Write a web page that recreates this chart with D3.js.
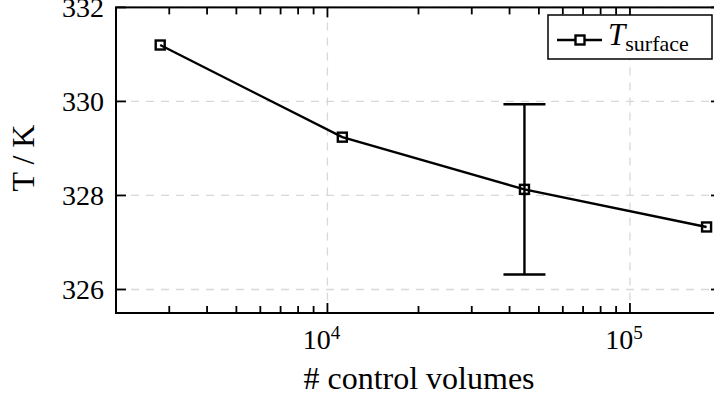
<!DOCTYPE html>
<html>
<head>
<meta charset="utf-8">
<script src="https://cdn.jsdelivr.net/npm/d3@7"></script>
<style>
  body { margin: 0; background: white; }
</style>
</head>
<body>
<div id="chart"></div>
<script>
// data
const cvCounts = [2800, 11200, 44800, 179200];
const tSurface = [331.2, 329.24, 328.13, 327.33];
const tError = [0, 0, 1.81, 0];
const yTicks = [326, 328, 330, 332];
const xMajorTicks = [1e4, 1e5];
const xMinorTicks = [3e3, 4e3, 5e3, 6e3, 7e3, 8e3, 9e3, 2e4, 3e4, 4e4, 5e4, 6e4, 7e4, 8e4, 9e4, 2e5];
const seriesName = "T";
const seriesSub = "surface";

const width = 714, height = 402;
const plot = {left: 116, right: 721, top: 7.4, bottom: 313};
const serif = "'Liberation Serif', serif";

const svg = d3.select("#chart").append("svg")
    .attr("width", width)
    .attr("height", height)
    .style("font-family", serif);

const x = d3.scaleLog()
    .domain([2000, 200000])
    .range([plot.left, plot.right]);

const y = d3.scaleLinear()
    .domain([325.5, 332])
    .range([plot.bottom, plot.top]);

// grid
const grid = svg.append("g")
    .attr("stroke", "#d8d8d8")
    .attr("stroke-width", 1.3)
    .attr("stroke-dasharray", "8,7");
grid.selectAll(".gy").data(yTicks).enter().append("line")
    .attr("x1", plot.left).attr("x2", plot.right)
    .attr("y1", d => y(d)).attr("y2", d => y(d));
grid.selectAll(".gx").data(xMajorTicks).enter().append("line")
    .attr("y1", plot.top).attr("y2", plot.bottom)
    .attr("x1", d => x(d)).attr("x2", d => x(d));

// ticks (inside, on all four sides)
const ticks = svg.append("g").attr("stroke", "black").attr("stroke-width", 1.8);
yTicks.forEach(v => {
    ticks.append("line").attr("x1", plot.left).attr("x2", plot.left + 10)
        .attr("y1", y(v)).attr("y2", y(v));
    ticks.append("line").attr("x1", plot.right).attr("x2", plot.right - 10)
        .attr("y1", y(v)).attr("y2", y(v));
});
xMajorTicks.forEach(v => {
    ticks.append("line").attr("x1", x(v)).attr("x2", x(v))
        .attr("y1", plot.bottom).attr("y2", plot.bottom - 10);
    ticks.append("line").attr("x1", x(v)).attr("x2", x(v))
        .attr("y1", plot.top).attr("y2", plot.top + 10);
});
xMinorTicks.forEach(v => {
    ticks.append("line").attr("x1", x(v)).attr("x2", x(v))
        .attr("y1", plot.bottom).attr("y2", plot.bottom - 7);
    ticks.append("line").attr("x1", x(v)).attr("x2", x(v))
        .attr("y1", plot.top).attr("y2", plot.top + 7);
});

// frame
svg.append("rect")
    .attr("x", plot.left).attr("y", plot.top)
    .attr("width", plot.right - plot.left)
    .attr("height", plot.bottom - plot.top)
    .attr("fill", "none")
    .attr("stroke", "black")
    .attr("stroke-width", 2);

// tick labels
svg.append("g").selectAll("text").data(yTicks).enter().append("text")
    .attr("x", 104)
    .attr("y", d => y(d) + 9.5)
    .attr("text-anchor", "end")
    .attr("font-size", 28)
    .text(d => d);

const xl = svg.append("g").selectAll("text").data(xMajorTicks).enter().append("text")
    .attr("x", d => x(d) - 6)
    .attr("y", 349)
    .attr("text-anchor", "middle")
    .attr("font-size", 28);
xl.append("tspan").text("10");
xl.append("tspan").attr("dy", -10).attr("font-size", 19).text(d => Math.round(Math.log10(d)));

// axis labels
svg.append("text")
    .attr("x", 419)
    .attr("y", 389)
    .attr("text-anchor", "middle")
    .attr("font-size", 32)
    .text("# control volumes");

svg.append("text")
    .attr("transform", "translate(34,158) rotate(-90)")
    .attr("text-anchor", "middle")
    .attr("font-size", 32)
    .text("T / K");

// series line
const line = d3.line()
    .x((d, i) => x(cvCounts[i]))
    .y(d => y(d));

svg.append("path")
    .datum(tSurface)
    .attr("d", line)
    .attr("fill", "none")
    .attr("stroke", "black")
    .attr("stroke-width", 2.4);

// error bars
const errIdx = tError.map((e, i) => i).filter(i => tError[i] > 0);
const eb = svg.append("g").attr("stroke", "black").attr("stroke-width", 2.4);
errIdx.forEach(i => {
    const cx = x(cvCounts[i]);
    const yHi = y(tSurface[i] + tError[i]);
    const yLo = y(tSurface[i] - tError[i]);
    eb.append("line").attr("x1", cx).attr("x2", cx).attr("y1", yHi).attr("y2", yLo);
    eb.append("line").attr("x1", cx - 21).attr("x2", cx + 21).attr("y1", yHi).attr("y2", yHi);
    eb.append("line").attr("x1", cx - 21).attr("x2", cx + 21).attr("y1", yLo).attr("y2", yLo);
});

// markers
const ms = 9;
svg.selectAll(".marker").data(tSurface).enter().append("rect")
    .attr("class", "marker")
    .attr("x", (d, i) => x(cvCounts[i]) - ms / 2)
    .attr("y", d => y(d) - ms / 2)
    .attr("width", ms)
    .attr("height", ms)
    .attr("fill", "none")
    .attr("stroke", "black")
    .attr("stroke-width", 2.4);

// legend
const lg = svg.append("g");
lg.append("rect")
    .attr("x", 548).attr("y", 15)
    .attr("width", 164).attr("height", 44)
    .attr("fill", "white")
    .attr("stroke", "black")
    .attr("stroke-width", 1.5);
lg.append("line")
    .attr("x1", 557).attr("x2", 602)
    .attr("y1", 40).attr("y2", 40)
    .attr("stroke", "black").attr("stroke-width", 2.4);
lg.append("rect")
    .attr("x", 580 - ms / 2).attr("y", 40 - ms / 2)
    .attr("width", ms).attr("height", ms)
    .attr("fill", "white").attr("stroke", "black").attr("stroke-width", 2.4);
const lt = lg.append("text")
    .attr("x", 608).attr("y", 45)
    .attr("font-size", 31);
lt.append("tspan").attr("font-style", "italic").text(seriesName);
lt.append("tspan").attr("dy", 6).attr("font-size", 22).text(seriesSub);
</script>
</body>
</html>
